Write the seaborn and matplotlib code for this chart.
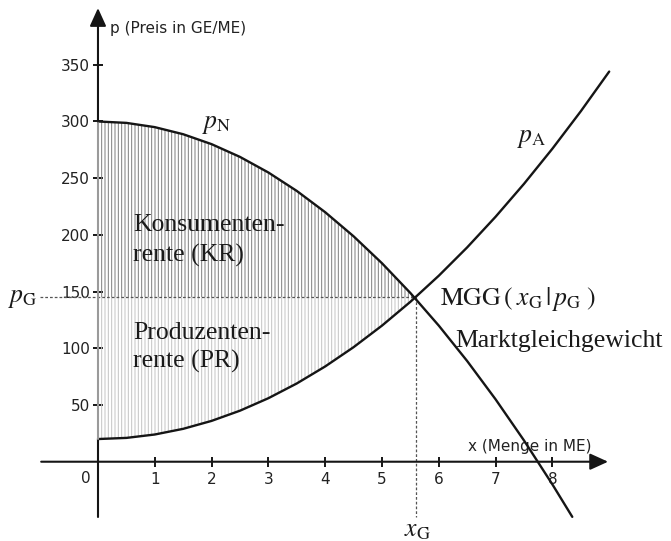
import numpy as np
import matplotlib
matplotlib.use("Agg")
import matplotlib.pyplot as plt
import seaborn as sns

# values (price in GE/ME over quantity in ME)
x_n = [0, 0.5, 1, 1.5, 2, 2.5, 3, 3.5, 4, 4.5, 5, 5.5, 6, 6.5, 7, 7.5, 8, 8.35]
p_n = [300, 298.75, 295, 288.75, 280, 268.75, 255, 238.75, 220, 198.75, 175,
       148.75, 120, 88.75, 55, 18.75, -20, -48.6]
x_a = [0, 0.5, 1, 1.5, 2, 2.5, 3, 3.5, 4, 4.5, 5, 5.5, 6, 6.5, 7, 7.5, 8, 8.5, 9]
p_a = [20, 21, 24, 29, 36, 45, 56, 69, 84, 101, 120, 141, 164, 189, 216, 245,
       276, 309, 344]
x_g = 5.59
p_g = 145
x_ticks = [1, 2, 3, 4, 5, 6, 7, 8]
y_ticks = [50, 100, 150, 200, 250, 300, 350]

sns.set_theme(style="white")
plt.rcParams["mathtext.fontset"] = "stix"
plt.rcParams["hatch.linewidth"] = 0.7
serif = ["Liberation Serif", "DejaVu Serif"]
sans = ["DejaVu Sans"]

fig = plt.figure(figsize=(6.71, 5.41), dpi=100)
ax = fig.add_axes([0, 0, 1, 1])
ax.set_xlim(-1.725, 10.088)
ax.set_ylim(-69.9, 407.1)

xn = np.array(x_n)
pn = np.array(p_n)
xa = np.array(x_a)
pa = np.array(p_a)

# Konsumentenrente / Produzentenrente hatching
ax.fill_between(xn, p_g, pn, where=pn >= p_g, interpolate=True,
                facecolor="none", edgecolor="#7d7d7d", hatch="|||||", linewidth=0, zorder=1)
ax.fill_between(xa, pa, p_g, where=pa <= p_g, interpolate=True,
                facecolor="none", edgecolor="#c4c4c4", hatch="|||||", linewidth=0, zorder=1)

# curves
sns.lineplot(x=x_n, y=p_n, ax=ax, color="#151515", linewidth=1.7, zorder=4)
sns.lineplot(x=x_a, y=p_a, ax=ax, color="#151515", linewidth=1.7, zorder=4)

# dotted helper lines
ax.plot([-1.02, x_g], [p_g, p_g], color="#555555", lw=0.9, ls=(0, (2.2, 1.6)), zorder=3)
ax.plot([x_g, x_g], [p_g, -49], color="#555555", lw=0.9, ls=(0, (2.2, 1.6)), zorder=3)

# axes with arrows
ax.plot([0, 0], [-49, p_a[0]], color="#151515", lw=1.5, zorder=5)
ax.plot([0, 0], [p_a[0], p_n[0]], color="#9a9a9a", lw=1.5, zorder=5)
arrow = dict(arrowstyle="-|>,head_length=0.55,head_width=0.25", lw=1.5,
             color="#151515", mutation_scale=20, shrinkA=0, shrinkB=0)
ax.annotate("", xy=(0, 400), xytext=(0, p_n[0]), arrowprops=arrow, zorder=5)
ax.annotate("", xy=(8.98, 0), xytext=(-1.0, 0), arrowprops=arrow, zorder=5)

for s in ["left", "bottom"]:
    ax.spines[s].set_position(("data", 0))
    ax.spines[s].set_color("none")
for s in ["right", "top"]:
    ax.spines[s].set_visible(False)

ax.set_xticks(x_ticks)
ax.set_yticks(y_ticks)
ax.tick_params(bottom=True, left=True, direction="inout", length=6.5, width=1.4,
               color="#151515", labelsize=11, labelcolor="#222222")
ax.tick_params(axis="y", pad=2.5)
ax.tick_params(axis="x", pad=4.5)
for lab in ax.get_xticklabels() + ax.get_yticklabels():
    lab.set_family(sans)
ax.text(-0.21, -14.4, "0", fontsize=11, color="#222222", family=sans,
        ha="center", va="center")

ax.text(0.21, 381.6, "p (Preis in GE/ME)", fontsize=11, color="#222222",
        family=sans, ha="left", va="center")
ax.text(6.51, 13.8, "x (Menge in ME)", fontsize=11, color="#222222",
        family=sans, ha="left", va="center")

# serif labels
txt = dict(fontsize=18.5, color="#1a1a1a", family=serif, ha="left", va="baseline")
ax.text(0.616, 203.1, "Konsumenten-", **txt)
ax.text(0.616, 176.2, "rente (KR)", **txt)
ax.text(0.616, 108.4, "Produzenten-", **txt)
ax.text(0.616, 82.8, "rente (PR)", **txt)
ax.text(6.29, 101.3, "Marktgleichgewicht", **txt)
ax.text(6.02, 138.3, r"$\mathrm{MGG}\,(\;x_{\mathrm{G}}\,|\,p_{\mathrm{G}}\;)$", **txt)

mtxt = dict(fontsize=18.5, color="#1a1a1a", va="center")
ax.text(1.83, 298.7, r"$p_{\mathrm{N}}$", ha="left", **mtxt)
ax.text(7.38, 286, r"$p_{\mathrm{A}}$", ha="left", **mtxt)
ax.text(-1.585, 145.6, r"$p_{\mathrm{G}}$", ha="left", **mtxt)
ax.text(5.63, -59.5, r"$x_{\mathrm{G}}$", ha="center", **mtxt)

fig.savefig("out.png", dpi=100)
